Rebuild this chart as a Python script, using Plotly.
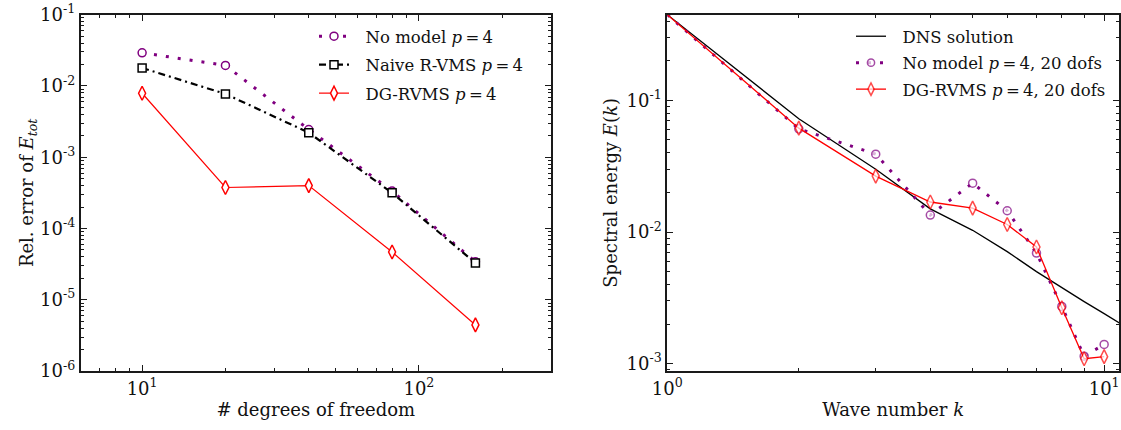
import numpy as np
import plotly.graph_objects as go
from plotly.subplots import make_subplots

# --- convergence study: relative error of total energy vs. dofs ---
dofs = [10, 20, 40, 80, 160]
err_no_model = [2.92e-2, 1.94e-2, 2.45e-3, 3.35e-4, 3.4e-5]
err_naive_rvms = [1.79e-2, 7.73e-3, 2.21e-3, 3.16e-4, 3.27e-5]
err_dg_rvms = [7.9e-3, 3.76e-4, 4.0e-4, 4.68e-5, 4.43e-6]

# --- energy spectrum, p=4 with 20 dofs ---
k_dns = [1, 2, 3, 4, 5, 6, 7, 8, 9, 10, 11]
E_dns = [0.447, 0.0725, 0.030, 0.0150, 0.0103, 0.0071, 0.0050, 0.00377, 0.00296, 0.0024, 0.00198]
k_les = [1, 2, 3, 4, 5, 6, 7, 8, 9, 10]
E_no_model = [0.447, 0.0608, 0.039, 0.01346, 0.0235, 0.0145, 0.00692, 0.00272, 0.00114, 0.0014]
E_dg_rvms = [0.447, 0.0615, 0.0266, 0.0169, 0.0152, 0.0114, 0.00769, 0.00266, 0.00109, 0.00113]

FONT = "DejaVu Serif"
PURPLE = "#800080"
RED = "#ff0000"
BLACK = "#000000"

fig = make_subplots(rows=1, cols=2)

eq4 = "<i>p</i>\u2009=\u20094"
GAP = "\u2002\u2009"  # spacing between legend handle and label


def hollow(symbol, color, size):
    return dict(symbol=symbol, size=size, color="white", line=dict(color=color, width=1.5))


# left panel
fig.add_trace(go.Scatter(
    x=dofs, y=err_no_model, mode="lines+markers", name=f"{GAP}No model {eq4}",
    line=dict(color=PURPLE, width=3, dash="3px,9px"),
    marker=hollow("circle", PURPLE, 8), legend="legend", legendgroup="a"), row=1, col=1)
fig.add_trace(go.Scatter(
    x=dofs, y=err_naive_rvms, mode="lines+markers", name=f"{GAP}Naive R-VMS {eq4}",
    line=dict(color=BLACK, width=2.2, dash="7px,4px,2px,4px"),
    marker=hollow("square", BLACK, 8), legend="legend", legendgroup="b"), row=1, col=1)
fig.add_trace(go.Scatter(
    x=dofs, y=err_dg_rvms, mode="lines+markers", name=f"{GAP}DG-RVMS {eq4}",
    line=dict(color=RED, width=1.2),
    marker=hollow("diamond-tall", RED, 10), legend="legend", legendgroup="c"), row=1, col=1)

# right panel (markers start at k = 2)
circle_sizes = [0] + [8] * (len(k_les) - 1)
diamond_sizes = [0] + [10] * (len(k_les) - 1)
fig.add_trace(go.Scatter(
    x=k_dns, y=E_dns, mode="lines", name=f"{GAP}DNS solution",
    line=dict(color=BLACK, width=1.3), legend="legend2", legendgroup="d"), row=1, col=2)
fig.add_trace(go.Scatter(
    x=k_les, y=E_no_model, mode="lines+markers", name=f"{GAP}No model {eq4}, 20 dofs",
    line=dict(color=PURPLE, width=3, dash="3px,9px"),
    marker=hollow("circle", PURPLE, circle_sizes), legend="legend2", legendgroup="e"),
    row=1, col=2)
fig.add_trace(go.Scatter(
    x=k_les, y=E_dg_rvms, mode="lines+markers", name=f"{GAP}DG-RVMS {eq4}, 20 dofs",
    line=dict(color=RED, width=1.3),
    marker=hollow("diamond-tall", RED, diamond_sizes), legend="legend2", legendgroup="f"),
    row=1, col=2)


def minor_vals(lo, hi):
    vals = []
    for e in range(lo, hi):
        for d in range(2, 10):
            vals.append(d * 10.0 ** e)
    return vals


def sup(e):
    return f"10<sup>{e}</sup>"


axis_common = dict(
    type="log", showgrid=False, zeroline=False, showline=True, linecolor="#1a1a1a",
    linewidth=1.8, mirror="allticks", ticks="inside", ticklen=6, tickwidth=1,
    tickcolor="#1a1a1a", automargin=False,
    tickfont=dict(family=FONT, size=18, color="#111"),
    title_font=dict(family=FONT, size=18, color="#111"),
)

W, H = 1121, 430
y_dom = [1 - 371 / H, 1 - 14.7 / H]

fig.update_xaxes(
    **axis_common, domain=[80.7 / W, 551 / W],
    range=[np.log10(6), np.log10(300)],
    tickvals=[10, 100], ticktext=[sup(1), sup(2)],
    minor=dict(ticks="inside", ticklen=3, tickcolor="#1a1a1a", tickvals=minor_vals(0, 3)),
    title_text="# degrees of freedom", title_standoff=6, row=1, col=1)
fig.update_yaxes(
    **axis_common, domain=y_dom, range=[-6, -1],
    tickvals=[1e-6, 1e-5, 1e-4, 1e-3, 1e-2, 1e-1],
    ticktext=[sup("-6"), sup("-5"), sup("-4"), sup("-3"), sup("-2"), sup("-1")],
    minor=dict(ticks="inside", ticklen=3, tickcolor="#1a1a1a", tickvals=minor_vals(-6, -1)),
    title_text="Rel. error of <i>E</i><sub><i>tot</i></sub>", title_standoff=0,
    row=1, col=1)

fig.update_xaxes(
    **axis_common, domain=[667.3 / W, 1119 / W],
    range=[0, 1.034],
    tickvals=[1, 10], ticktext=[sup(0), sup(1)],
    minor=dict(ticks="inside", ticklen=3, tickcolor="#1a1a1a", tickvals=minor_vals(0, 2)),
    title_text="Wave number <i>k</i>", title_standoff=6, row=1, col=2)
fig.update_yaxes(
    **axis_common, domain=y_dom, range=[np.log10(0.00088), np.log10(0.447)],
    tickvals=[1e-3, 1e-2, 1e-1], ticktext=[sup("-3"), sup("-2"), sup("-1")],
    minor=dict(ticks="inside", ticklen=3, tickcolor="#1a1a1a", tickvals=minor_vals(-4, 0)),
    title_text="Spectral energy <i>E</i>(<i>k</i>)", title_standoff=4,
    row=1, col=2)

legend_style = dict(
    xanchor="left", yanchor="top", bgcolor="rgba(0,0,0,0)", borderwidth=0,
    font=dict(family=FONT, size=16.5, color="#111"), itemwidth=30,
    itemclick=False,
)

fig.update_layout(
    width=W, height=H, margin=dict(l=0, r=0, t=0, b=0),
    paper_bgcolor="white", plot_bgcolor="white",
    font=dict(family=FONT, color="#111"),
    legend=dict(**legend_style, x=314 / W, y=1 - 19 / H, tracegroupgap=4),
    legend2=dict(**legend_style, x=851 / W, y=1 - 19 / H, tracegroupgap=2),
)

fig.write_html("out.html")
